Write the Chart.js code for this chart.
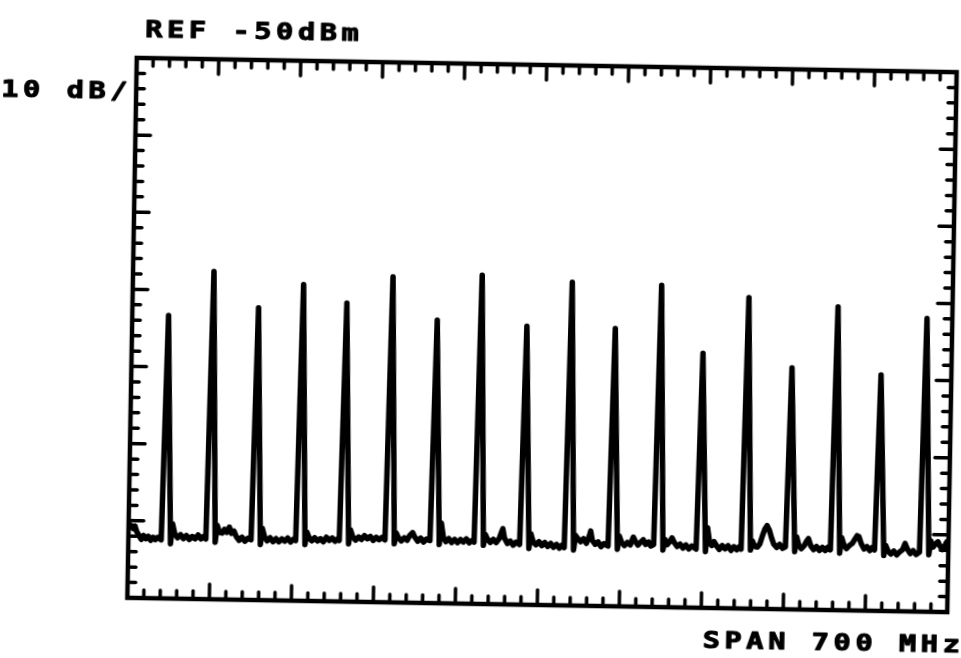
<!DOCTYPE html>
<html><head><meta charset="utf-8">
<script src="https://cdn.jsdelivr.net/npm/chart.js@4.4.0/dist/chart.umd.min.js"></script>
<style>
html,body{margin:0;padding:0;background:#fff;overflow:hidden;width:961px;height:658px;}
#wrap{position:absolute;left:-20px;top:-20px;width:1001px;height:698px;transform-origin:562px 355px;transform:rotate(1deg);}
canvas{display:block;}
</style></head><body>
<div id="wrap"><canvas id="c" width="1001" height="698"></canvas></div>
<script>
// ---- labels ----
const refLabel = 'REF -50dBm';
const scaleLabel = '10 dB/';
const spanLabel = 'SPAN 700 MHz';

// ---- axes ----
const freqMin = 0, freqMax = 700;        // MHz (span 700 MHz)
const levelMin = -120, levelMax = -50;   // dBm (ref -50 dBm, 10 dB/div, 7 div)
const freqTickStep = 14, freqMajorStep = 70;
const levelTickStep = 2, levelMajorStep = 10;

// ---- trace: frequency in MHz ----
const traceFreq = [
  0, 2, 4, 5.5, 7, 9, 11, 13, 15, 17, 19, 21, 23, 25, 28,
  31.0, 36.0, 37.5, 39.5,
  42, 44.5, 47, 49.5, 52, 54.5, 57, 59.5, 62, 64, 66.1,
  69.1, 74.1, 75.6, 77.6,
  80, 82, 84, 86, 88, 90, 92, 94.5, 97, 99.5, 102, 104.7,
  107.7, 112.7, 114.2, 116.2,
  118.5, 121, 123.5, 126, 128.5, 131, 133.5, 136, 138.5, 141, 142.8,
  145.8, 150.8, 152.3, 154.3,
  156.5, 159, 161.5, 164, 166.5, 169, 171.5, 174, 176.5, 178.5, 180,
  183.0, 188.0, 189.5, 191.5,
  194, 196.5, 199, 201.5, 204, 206.5, 209, 211.5, 214, 216.5, 219,
  222.0, 227.0, 228.5, 230.5,
  233, 235.5, 238, 240, 242.5, 244.5, 247, 249.5, 252, 254.5, 257.4,
  260.4, 265.4, 266.9, 268.9,
  271, 273.5, 276, 278.5, 281, 283.5, 286, 288.5, 291, 293, 295.1,
  298.1, 303.1, 304.6, 306.6,
  309, 311.5, 314, 316.5, 318.5, 319.5, 321, 323.5, 326, 328.5, 331, 334,
  337.0, 342.0, 343.5, 345.5,
  348, 350.5, 353, 355.5, 358, 360.5, 363, 365.5, 368, 370, 372.1,
  375.1, 380.1, 381.6, 383.6,
  386, 388.5, 391, 393.5, 394.5, 396, 398.5, 401, 403.5, 406, 409.5,
  412.5, 417.5, 419.0, 421.0,
  423.5, 426, 428.5, 431, 433, 435, 437.5, 439.5, 441.5, 444, 446, 448.4,
  451.4, 456.4, 457.9, 459.9,
  462, 464, 466, 468.5, 471, 473.5, 476, 478.5, 481, 484.7,
  487.7, 492.7, 494.2, 496.2,
  498, 500, 502, 504.5, 507, 509.5, 512, 514.5, 517, 519.5, 521.5, 523.1,
  526.1, 531.1, 532.6, 534.6,
  537, 539, 541, 543, 545, 547, 549, 551, 553.5, 556, 558.5, 560.9,
  563.9, 568.9, 570.4, 572.4,
  574.5, 577, 579, 580.5, 582.5, 585, 587.5, 590, 592.5, 595, 597, 599.3,
  602.3, 607.3, 608.8, 610.8,
  613, 615.5, 618, 620, 622, 623.5, 625.5, 628, 630.5, 633, 635, 637,
  640.0, 645.0, 646.5, 648.5,
  651, 653.5, 656, 658.5, 661, 663, 665, 667.5, 670, 672.5, 675.4,
  678.4, 683.4, 684.9, 686.9,
  689, 691, 693, 695, 697, 698.5, 700
];
// ---- trace level in dBm ----
const traceLevel = [
  -111.0, -110.6, -111.0, -110.7, -111.4, -111.9, -112.4, -111.9, -112.3, -112.0, -112.5, -112.1, -112.4, -112.1, -112.4,
  -83.3, -112.9, -110.3, -111.6,
  -112.1, -111.7, -112.2, -111.8, -112.3, -111.9, -112.2, -111.7, -112.2, -111.9, -112.2,
  -77.5, -112.6, -110.4, -111.3,
  -111.4, -110.9, -111.3, -110.6, -111.4, -111.1, -111.8, -112.3, -111.9, -112.4, -112.0, -112.2,
  -82.1, -112.8, -110.7, -111.8,
  -112.3, -111.9, -112.4, -112.0, -112.4, -112.0, -112.3, -111.9, -112.4, -112.0, -112.2,
  -79.0, -112.7, -111.1, -111.8,
  -112.2, -111.8, -112.2, -111.9, -112.3, -111.7, -112.1, -111.8, -112.2, -111.9, -112.1,
  -81.3, -112.5, -110.7, -111.6,
  -112.0, -111.6, -111.9, -111.4, -111.8, -111.5, -112.0, -111.6, -111.9, -111.6, -111.9,
  -77.8, -112.4, -111.0, -111.6,
  -112.0, -111.6, -111.9, -111.3, -110.9, -111.5, -112.0, -111.6, -112.1, -111.7, -111.9,
  -83.3, -112.4, -109.6, -111.5,
  -112.0, -111.6, -112.1, -111.7, -112.1, -111.7, -112.0, -111.6, -112.1, -111.8, -112.0,
  -77.4, -112.4, -111.0, -111.6,
  -112.0, -111.6, -112.0, -111.5, -110.6, -110.2, -111.4, -112.1, -111.8, -112.3, -111.9, -112.2,
  -83.9, -112.7, -110.8, -111.8,
  -112.2, -111.8, -112.3, -111.9, -112.4, -112.0, -112.5, -112.1, -112.6, -112.2, -112.5,
  -78.1, -112.8, -110.9, -111.3,
  -111.7, -111.3, -111.9, -110.9, -110.3, -111.5, -112.0, -111.7, -112.3, -111.9, -112.2,
  -84.0, -112.6, -110.9, -111.7,
  -112.1, -111.7, -112.0, -111.0, -111.6, -112.0, -111.6, -111.3, -111.9, -111.6, -112.1, -111.9,
  -78.3, -112.6, -111.2, -111.9,
  -111.5, -111.0, -111.6, -112.1, -111.8, -112.3, -111.9, -112.4, -112.0, -112.4,
  -87.0, -112.7, -109.6, -111.6,
  -111.9, -111.4, -111.9, -112.4, -111.9, -112.3, -111.9, -112.5, -112.0, -112.4, -112.0, -112.3,
  -79.7, -112.4, -111.2, -111.9,
  -112.0, -111.6, -110.6, -109.7, -109.2, -109.8, -110.8, -111.6, -112.0, -111.6, -112.1, -111.9,
  -88.7, -112.5, -110.6, -111.7,
  -112.1, -111.7, -111.1, -110.8, -111.7, -112.2, -111.8, -112.3, -111.9, -112.3, -111.9, -112.2,
  -80.7, -112.6, -110.6, -111.5,
  -112.0, -111.6, -111.3, -110.8, -110.3, -110.4, -111.3, -112.0, -111.7, -112.2, -111.8, -112.1,
  -89.4, -112.8, -111.5, -112.2,
  -112.6, -112.2, -112.7, -112.3, -112.0, -111.2, -111.9, -112.5, -112.1, -112.6, -112.3,
  -82.0, -112.6, -110.8, -111.6,
  -111.2, -110.9, -111.5, -111.9, -111.4, -110.9, -111.2
];

const nPts = Math.min(traceFreq.length, traceLevel.length);
const points = traceFreq.slice(0, nPts).map((f, i) => ({x: f, y: traceLevel[i]}));

function drawLabel(ctx, text, x, y) {
  ctx.save();
  ctx.translate(x, y);
  ctx.scale(1.25, 1);
  try { ctx.letterSpacing = '3.6px'; } catch (e) {}
  ctx.fillText(text, 0, 0);
  ctx.strokeText(text, 0, 0);
  ctx.restore();
}

const framePlugin = {
  id: 'frame',
  afterDatasetsDraw(chart) {
    const {ctx, chartArea: a, scales: {x, y}} = chart;
    ctx.save();
    ctx.strokeStyle = '#000';
    ctx.lineWidth = 4.5;
    ctx.strokeRect(a.left, a.top, a.right - a.left, a.bottom - a.top);
    ctx.lineCap = 'round';
    ctx.lineWidth = 3.5;
    ctx.beginPath();
    x.ticks.forEach(t => {
      if (t.value <= freqMin + 0.01 || t.value >= freqMax - 0.01) return;
      const px = x.getPixelForValue(t.value);
      const major = Math.round(t.value / freqTickStep) % (freqMajorStep / freqTickStep) === 0;
      const len = major ? 15 : 8;
      ctx.moveTo(px, a.top); ctx.lineTo(px, a.top + len);
      ctx.moveTo(px, a.bottom); ctx.lineTo(px, a.bottom - len);
    });
    y.ticks.forEach(t => {
      if (t.value <= levelMin + 0.01 || t.value >= levelMax - 0.01) return;
      const py = y.getPixelForValue(t.value);
      const major = Math.round(t.value / levelTickStep) % (levelMajorStep / levelTickStep) === 0;
      const len = major ? 15 : 8;
      ctx.moveTo(a.left, py); ctx.lineTo(a.left + len, py);
      ctx.moveTo(a.right, py); ctx.lineTo(a.right - len, py);
    });
    ctx.stroke();

    ctx.fillStyle = '#000';
    ctx.strokeStyle = '#000';
    ctx.lineWidth = 1;
    ctx.lineJoin = 'round';
    ctx.font = 'bold 23px "DejaVu Sans Mono"';
    ctx.textBaseline = 'alphabetic';
    ctx.textAlign = 'left';
    drawLabel(ctx, refLabel, a.left + 8, a.top - 21);
    drawLabel(ctx, scaleLabel, a.left - 135, a.top + 41);
    drawLabel(ctx, spanLabel, a.left + 576, a.bottom + 40);
    ctx.restore();
  }
};

const hiddenScale = (min, max, step) => ({
  type: 'linear', min, max,
  ticks: {stepSize: step, display: false},
  grid: {display: false, drawTicks: false, tickLength: 0},
  border: {display: false},
  title: {display: false}
});

new Chart(document.getElementById('c'), {
  type: 'line',
  data: {
    datasets: [{
      data: points,
      borderColor: '#000',
      borderWidth: 5.5,
      pointRadius: 0,
      fill: false,
      tension: 0,
      borderJoinStyle: 'round',
      borderCapStyle: 'round'
    }]
  },
  options: {
    responsive: false,
    animation: false,
    events: [],
    layout: {padding: {left: 152, top: 85, right: 29, bottom: 73}},
    plugins: {legend: {display: false}, tooltip: {enabled: false}, title: {display: false}},
    scales: {
      x: hiddenScale(freqMin, freqMax, freqTickStep),
      y: hiddenScale(levelMin, levelMax, levelTickStep)
    }
  },
  plugins: [framePlugin]
});
</script>
</body></html>
